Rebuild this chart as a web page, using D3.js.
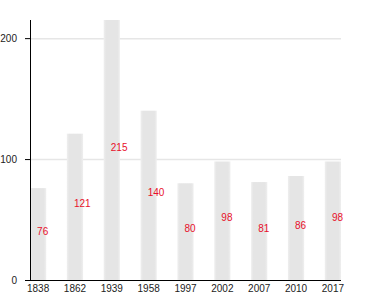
<!DOCTYPE html>
<html><head><meta charset="utf-8">
<script src="https://cdn.jsdelivr.net/npm/d3@7"></script>
<style>body{margin:0;background:#fff}svg{display:block}text{font-family:"Liberation Sans",Arial,sans-serif}</style>
</head><body><svg id="c" width="380" height="300"></svg>
<script>
const categories = ["1838","1862","1939","1958","1997","2002","2007","2010","2017"];
const values = [76,121,215,140,80,98,81,86,98];
const yTicks = [0,100,200];

(function(){
const svg = d3.select("#c");
const mLeft = 30, mRight = 341, mTop = 20, mBottom = 280;
const x = d3.scaleBand().domain(categories).range([mLeft, mRight]).paddingInner(0.56).paddingOuter(0);
const y = d3.scaleLinear().domain([0, d3.max(values)]).range([mBottom, mTop]);

const defs = svg.append("defs");
const g = defs.append("linearGradient").attr("id","bg").attr("x1","0").attr("x2","1").attr("y1","0").attr("y2","0");
g.append("stop").attr("offset","0").attr("stop-color","#efefef");
g.append("stop").attr("offset","0.15").attr("stop-color","#e5e5e5");
g.append("stop").attr("offset","0.85").attr("stop-color","#e5e5e5");
g.append("stop").attr("offset","1").attr("stop-color","#efefef");

// grid
svg.append("g").selectAll("line").data(yTicks.filter(d=>d>0)).join("line")
  .attr("x1", mLeft).attr("x2", mRight).attr("y1", d=>y(d)+0.5).attr("y2", d=>y(d)+0.5)
  .attr("stroke","#e6e6e6").attr("stroke-width",1.5);

// bars
svg.append("g").selectAll("rect").data(values).join("rect")
  .attr("x",(d,i)=>x(categories[i])).attr("width",x.bandwidth())
  .attr("y",d=>y(d)).attr("height",d=>mBottom-y(d)).attr("fill","url(#bg)");

// labels
svg.append("g").selectAll("text").data(values).join("text")
  .attr("x",(d,i)=>x(categories[i])+x.bandwidth()/2-1)
  .attr("y",d=>(y(d)+mBottom)/2)
  .attr("dy","0.05em").attr("text-anchor","start")
  .attr("font-size",10).attr("fill","#e8102a").text(d=>d);

// y axis
const ya = svg.append("g").attr("transform",`translate(${mLeft},0)`)
  .call(d3.axisLeft(y).tickValues(yTicks).tickSize(5).tickPadding(8).tickFormat(d3.format("d")));
ya.select(".domain").attr("stroke","#000").attr("d",`M0.5,${mTop}V${mBottom}`);
ya.selectAll(".tick line").attr("stroke","#000");
ya.selectAll("text").attr("font-size",10).attr("fill","#222").attr("font-family",null);

// x axis
const xa = svg.append("g").attr("transform",`translate(0,${mBottom})`)
  .call(d3.axisBottom(x).tickSize(0).tickPadding(5));
xa.select(".domain").attr("stroke","#000").attr("d",`M${mLeft},0.5H${mRight}`);
xa.selectAll("text").attr("font-size",10).attr("fill","#222").attr("font-family",null);
})();
</script></body></html>
